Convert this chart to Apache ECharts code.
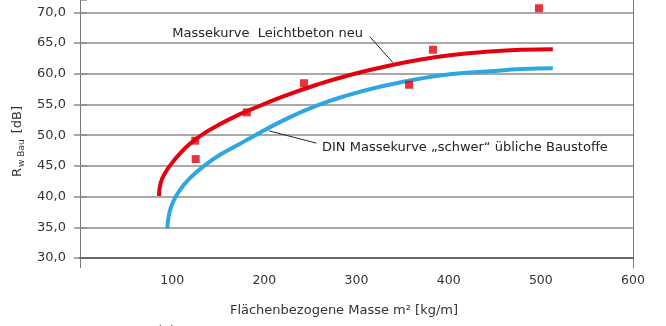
<!DOCTYPE html>
<html>
<head>
<meta charset="utf-8">
<script src="https://cdn.jsdelivr.net/npm/echarts@6/dist/echarts.min.js"></script>
<style>
html,body{margin:0;padding:0;background:#fff;}
#chart{width:666px;height:326px;}
</style>
</head>
<body>
<div id="chart"></div>
<script>
// Red curve: "Massekurve Leichtbeton neu"
const redCurveX = [85.7, 87.5, 92.2, 99.5, 108.5, 119.3, 133.8, 148.3, 166.3, 184.4, 220.6, 256.8, 292.9, 329.1, 365.3, 401.4, 445, 480, 513];
const redCurveY = [40.1, 42.2, 43.8, 45.4, 47.0, 48.6, 50.2, 51.5, 52.9, 54.1, 56.3, 58.2, 59.8, 61.1, 62.2, 63.0, 63.6, 63.9, 64.0];
// Blue curve: "DIN Massekurve schwer"
const blueCurveX = [94.7, 96.9, 101.2, 108.5, 119.3, 133.8, 151.9, 173.6, 184.4, 220.6, 256.8, 292.9, 329.1, 365.3, 401.4, 445, 480, 513];
const blueCurveY = [34.8, 37.3, 39.2, 41.1, 43.0, 44.9, 46.8, 48.6, 49.5, 52.4, 54.8, 56.6, 58.0, 59.1, 59.9, 60.4, 60.75, 60.9];
// Measured points (red squares)
const pointsX = [125, 125.5, 181, 243, 357, 383, 498];
const pointsY = [49.1, 46.1, 53.7, 58.45, 58.2, 63.9, 70.65];
// Axis ticks
const xTicks = [0, 100, 200, 300, 400, 500, 600];
const yTicks = [30, 35, 40, 45, 50, 55, 60, 65, 70];

const labelRed = 'Massekurve  Leichtbeton neu';
const labelBlue = 'DIN Massekurve \u201Eschwer\u201C übliche Baustoffe';
const xName = 'Flächenbezogene Masse m² [kg/m]';

const FONT = 'DejaVu Sans';
const pair = (xs, ys) => xs.map((x, i) => [x, ys[i]]);
const xMin = xTicks[0], xMax = xTicks[xTicks.length - 1];

const leaderLines = [
  [{coord: [205, 50.7]}, {coord: [256.5, 48.7]}],
  [{coord: [314.6, 66.0]}, {coord: [339.6, 61.8]}]
];

const chart = echarts.init(document.getElementById('chart'), null, {renderer: 'canvas'});
chart.setOption({
  animation: false,
  backgroundColor: '#fff',
  title: {
    text: '(a)', left: 152, top: 320,
    textStyle: {fontFamily: FONT, fontSize: 13, fontWeight: 'normal', color: '#333'}
  },
  grid: {left: 80, right: 33, top: 0, bottom: 68, containLabel: false},
  xAxis: [{
    type: 'value',
    min: xMin, max: xMax, interval: 100,
    name: xName,
    nameLocation: 'middle',
    nameGap: 46,
    nameTextStyle: {fontFamily: FONT, fontSize: 13, color: '#333', padding: [0, 25, 0, 0]},
    axisLine: {show: true, lineStyle: {color: '#6a6a6a', width: 2}},
    axisTick: {show: false},
    splitLine: {show: false},
    axisLabel: {
      showMinLabel: false, fontFamily: FONT, fontSize: 12.5, color: '#333', margin: 16
    },
    z: 6
  }, {
    type: 'value',
    position: 'bottom',
    min: xMin, max: xMax, interval: 600,
    axisLine: {show: false},
    axisLabel: {show: false},
    axisTick: {show: true, length: 10, lineStyle: {color: '#7a7a7a'}},
    splitLine: {show: true, lineStyle: {color: '#7a7a7a', width: 1}}
  }],
  yAxis: [{
    type: 'value',
    min: yTicks[0], max: 72, interval: 5,
    name: '{r|R}{s|w Bau}{r| [dB]}',
    nameLocation: 'middle',
    nameGap: 54,
    nameTextStyle: {
      fontFamily: FONT, color: '#333', padding: [0, 25, 0, 0],
      rich: {
        r: {fontFamily: FONT, fontSize: 13, color: '#333', lineHeight: 16},
        s: {fontFamily: FONT, fontSize: 9, color: '#333', verticalAlign: 'bottom', lineHeight: 10, padding: [0, 2, 0, 1]}
      }
    },
    axisLine: {show: false},
    axisTick: {show: true, length: 6, lineStyle: {color: '#8c8c8c', width: 1.5}},
    splitLine: {show: true, showMaxLine: false, lineStyle: {color: '#8c8c8c', width: 1.5}},
    axisLabel: {
      showMaxLabel: false, fontFamily: FONT, fontSize: 13, color: '#333', margin: 14,
      formatter: v => v.toFixed(1).replace('.', ',')
    }
  }, {
    type: 'value',
    position: 'right',
    min: yTicks[0], max: 72, interval: 5,
    axisLine: {show: false},
    axisLabel: {show: false},
    axisTick: {show: true, length: 7, lineStyle: {color: '#8c8c8c', width: 1.5}},
    splitLine: {show: false}
  }],
  series: [{
    name: 'blue',
    type: 'line',
    data: pair(blueCurveX, blueCurveY),
    smooth: 0.5,
    showSymbol: false,
    lineStyle: {color: '#2fa6df', width: 4},
    z: 3,
    markLine: {
      silent: true, symbol: ['none', 'none'],
      lineStyle: {color: '#222', width: 1, type: 'solid'},
      label: {show: false},
      data: leaderLines
    },
    markPoint: {
      silent: true, symbol: 'circle', symbolSize: 0,
      label: {show: true, fontFamily: FONT, fontSize: 13, color: '#222'},
      data: [
        {coord: [262.6, 47.9], value: labelBlue, label: {position: 'right', distance: 0, formatter: labelBlue}},
        {coord: [307, 66.6], value: labelRed, label: {position: 'left', distance: 0, formatter: labelRed}}
      ]
    }
  }, {
    name: 'red',
    type: 'line',
    data: pair(redCurveX, redCurveY),
    smooth: 0.5,
    showSymbol: false,
    lineStyle: {color: '#e3000f', width: 4},
    z: 4
  }, {
    name: 'points',
    type: 'scatter',
    data: pair(pointsX, pointsY),
    symbol: 'rect',
    symbolSize: 8,
    itemStyle: {color: '#e3000f'},
    z: 5
  }]
});
</script>
</body>
</html>
